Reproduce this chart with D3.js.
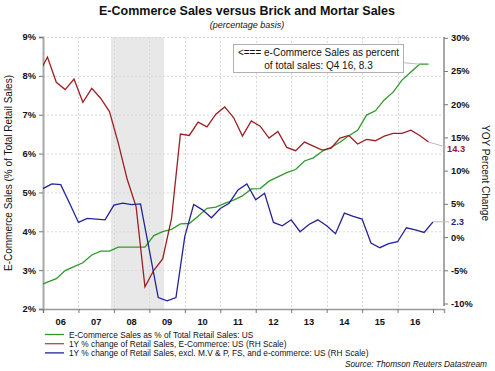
<!DOCTYPE html>
<html><head><meta charset="utf-8">
<script src="https://cdn.jsdelivr.net/npm/d3@7"></script>
<style>
body{margin:0;background:#fff;}
svg{display:block;font-family:"Liberation Sans",Arial,sans-serif;}
</style></head>
<body>
<svg id="chart" width="495" height="371"></svg>
<script>
// ---- data ----
const quarters = ["05Q4",
 "06Q1","06Q2","06Q3","06Q4","07Q1","07Q2","07Q3","07Q4",
 "08Q1","08Q2","08Q3","08Q4","09Q1","09Q2","09Q3","09Q4",
 "10Q1","10Q2","10Q3","10Q4","11Q1","11Q2","11Q3","11Q4",
 "12Q1","12Q2","12Q3","12Q4","13Q1","13Q2","13Q3","13Q4",
 "14Q1","14Q2","14Q3","14Q4","15Q1","15Q2","15Q3","15Q4",
 "16Q1","16Q2","16Q3","16Q4"];
const ecomShare = [2.60,
 2.69,2.78,2.99,3.09, 3.19,3.39,3.49,3.49,
 3.59,3.59,3.59,3.59, 3.89,3.99,4.05,4.19,
 4.20,4.39,4.59,4.62, 4.72,4.80,4.91,5.09,
 5.10,5.29,5.40,5.51, 5.59,5.81,5.89,6.06,
 6.16,6.29,6.46,6.60, 6.99,7.10,7.38,7.58,
 7.89,8.10,8.30,8.30];
const ecomYoY = [24.5,
 27.1,23.3,22.2,23.8, 20.3,22.4,20.9,18.9,
 14.1,8.7,4.6,-7.5, -5.0,-3.3,2.8,15.5,
 15.3,17.3,16.6,18.5, 19.6,18.0,15.2,17.5,
 16.7,14.9,15.9,13.5, 13.0,14.3,13.7,13.1,
 13.4,14.9,15.3,14.0, 14.7,14.5,15.2,15.6,
 15.6,16.1,15.3,14.3];
const brickYoY = [7.3,
 8.0,7.9,5.1,2.2, 2.8,2.7,2.6,4.8,
 5.1,4.9,5.0,-2.0, -9.1,-9.6,-9.1,0.1,
 4.9,4.1,2.9,4.3, 5.1,7.1,8.0,5.6,
 6.6,2.2,1.7,2.6, 0.8,1.9,2.6,1.7,
 0.5,3.6,3.1,2.7, -0.9,-1.6,-1.0,-0.7,
 1.4,1.1,0.7,2.3];
const leftTicks = [2,3,4,5,6,7,8,9];
const rightTicks = [-10,-5,0,5,10,15,20,25,30];
const yearLabels = ["06","07","08","09","10","11","12","13","14","15","16"];
const recession = ["2007-12","2009-06"];
const seriesNames = [
 "E-Commerce Sales as % of Total Retail Sales: US",
 "1Y % change of Retail Sales, E-Commerce: US (RH Scale)",
 "1Y % change of Retail Sales, excl. M.V & P, FS, and e-commerce: US (RH Scale)"];

// ---- helpers ----
const qMid = q => 2000 + (+q.slice(0,2)) + (+q[3]-1)/4 + 0.125;
const qEnd = q => 2000 + (+q.slice(0,2)) + (+q[3])/4;
const ym = s => +s.slice(0,4) + (+s.slice(5,7)-1)/12;

const C = {green:"#2f9a2a", red:"#9c1f24", blue:"#23239a"};
const svg = d3.select("#chart");
const L=43, R=444, T=37, B=309;

const x = d3.scaleLinear().domain([2006, 2017.31]).range([L,R]);
const yL = d3.scaleLinear().domain([2,9]).range([B,T]);
const yR = d3.scaleLinear().domain([-10,30]).range([303.5,37.8]);

svg.append("defs").append("clipPath").attr("id","clip")
  .append("rect").attr("x",L).attr("y",T-2).attr("width",R-L).attr("height",B-T+4);

// recession shading
svg.append("rect").attr("x",x(ym(recession[0]))).attr("y",T)
  .attr("width",x(ym(recession[1]))-x(ym(recession[0]))).attr("height",B-T)
  .attr("fill","#e8e8e8");

// gridlines
const years = d3.range(2007,2017);
svg.append("g").selectAll("line").data(leftTicks.slice(1)).join("line")
  .attr("x1",L).attr("x2",R).attr("y1",d=>yL(d)+0.5).attr("y2",d=>yL(d)+0.5)
  .attr("stroke","#d8d8d8").attr("stroke-dasharray","2,2");
svg.append("g").selectAll("line").data(years).join("line")
  .attr("x1",d=>Math.round(x(d))+0.5).attr("x2",d=>Math.round(x(d))+0.5).attr("y1",T).attr("y2",B)
  .attr("stroke","#d8d8d8").attr("stroke-dasharray","2,2");

// axes
const axL = svg.append("g").attr("transform",`translate(${L},0)`)
  .call(d3.axisLeft(yL).tickValues(leftTicks).tickFormat(d=>d+"%").tickSize(4).tickPadding(3));
const axR = svg.append("g").attr("transform",`translate(${R},0)`)
  .call(d3.axisRight(yR).tickValues(rightTicks).tickFormat(d=>d+"%").tickSize(4).tickPadding(3));
const axB = svg.append("g").attr("transform",`translate(0,${B})`)
  .call(d3.axisBottom(x).tickValues(d3.range(2006,2018)).tickFormat("").tickSize(4));
axR.select(".domain").attr("d",`M0,${T}V${B-3}`);
[axL,axR,axB].forEach(a=>{
  a.select(".domain").attr("stroke","#a8a8a8").attr("stroke-width",2);
  a.selectAll(".tick line").attr("stroke","#777");
  a.selectAll("text").attr("font-family","Liberation Sans, Arial").attr("font-size",9.3)
    .attr("font-weight","bold").attr("fill","#111");
});
axB.select(".domain").attr("stroke-width",1.5).attr("stroke","#999");
svg.append("g").selectAll("text").data(yearLabels).join("text")
  .attr("x",(d,i)=>x(2006+i+0.5)).attr("y",325).attr("text-anchor","middle")
  .attr("font-size",9.3).attr("font-weight","bold").attr("fill","#111").text(d=>d);

// lines
const g = svg.append("g").attr("clip-path","url(#clip)");
const lineOf = (xs, ys, yScale) => d3.line().x((d,i)=>x(xs[i])).y((d,i)=>yScale(ys[i]))(ys);
const tMid = quarters.map(qMid), tEnd = quarters.map(qEnd);
g.append("path").attr("d",lineOf(tMid,ecomShare,yL)).attr("fill","none").attr("stroke",C.green).attr("stroke-width",1.3);
g.append("path").attr("d",lineOf(tMid,ecomYoY,yR)).attr("fill","none").attr("stroke",C.red).attr("stroke-width",1.3);
g.append("path").attr("d",lineOf(tEnd,brickYoY,yR)).attr("fill","none").attr("stroke",C.blue).attr("stroke-width",1.3);

// end labels with connectors
const n = quarters.length-1;
svg.append("line").attr("x1",x(tMid[n])).attr("y1",yR(ecomYoY[n])).attr("x2",446).attr("y2",yR(ecomYoY[n])+5)
  .attr("stroke","#bbb");
svg.append("text").attr("x",447).attr("y",yR(ecomYoY[n])+10).attr("font-size",9.3).attr("font-weight","bold")
  .attr("fill","#8b1c3c").text(ecomYoY[n].toFixed(1));
svg.append("line").attr("x1",x(tEnd[n])).attr("y1",yR(brickYoY[n])).attr("x2",449).attr("y2",yR(brickYoY[n]))
  .attr("stroke","#bbb");
svg.append("text").attr("x",451).attr("y",yR(brickYoY[n])+3.5).attr("font-size",9.3).attr("font-weight","bold")
  .attr("fill","#1f1f8b").text(brickYoY[n].toFixed(1));

// annotation box
svg.append("line").attr("x1",403).attr("y1",62.7).attr("x2",x(tMid[n-1])).attr("y2",yL(ecomShare[n]))
  .attr("stroke","#bbb");
svg.append("rect").attr("x",233.5).attr("y",44.5).attr("width",170).attr("height",28)
  .attr("fill","#fff").attr("stroke","#b0b0b0");
svg.append("text").attr("x",318.5).attr("y",56).attr("text-anchor","middle").attr("font-size",10)
  .attr("fill","#111").text("<=== e-Commerce Sales as percent");
svg.append("text").attr("x",318.5).attr("y",68.5).attr("text-anchor","middle").attr("font-size",10)
  .attr("fill","#111").text(`of total sales: Q4 16, ${ecomShare[n]}`);

// titles
svg.append("text").attr("x",247).attr("y",15).attr("text-anchor","middle").attr("font-size",12.5)
  .attr("font-weight","bold").attr("fill","#111").text("E-Commerce Sales versus Brick and Mortar Sales");
svg.append("text").attr("x",247).attr("y",28).attr("text-anchor","middle").attr("font-size",9)
  .attr("font-style","italic").attr("fill","#111").text("(percentage basis)");
svg.append("text").attr("transform",`translate(12,173) rotate(-90)`).attr("text-anchor","middle")
  .attr("font-size",10).attr("fill","#111").text("E-Commerce Sales (% of Total Retail Sales)");
svg.append("text").attr("transform",`translate(482,173) rotate(90)`).attr("text-anchor","middle")
  .attr("font-size",10).attr("fill","#111").text("YOY Percent Change");

// legend
const legColors = [C.green,"#b04848",C.blue];
const lg = svg.append("g").selectAll("g").data(seriesNames).join("g")
  .attr("transform",(d,i)=>`translate(0,${334.5+i*9.2})`);
lg.append("line").attr("x1",45).attr("x2",64).attr("stroke",(d,i)=>legColors[i]).attr("stroke-width",1.3);
lg.append("text").attr("x",69).attr("y",3).attr("font-size",8.3).attr("fill","#111").text(d=>d);

svg.append("text").attr("x",487).attr("y",367).attr("text-anchor","end").attr("font-size",8.3)
  .attr("font-style","italic").attr("fill","#111").text("Source: Thomson Reuters Datastream");
</script>
</body></html>
